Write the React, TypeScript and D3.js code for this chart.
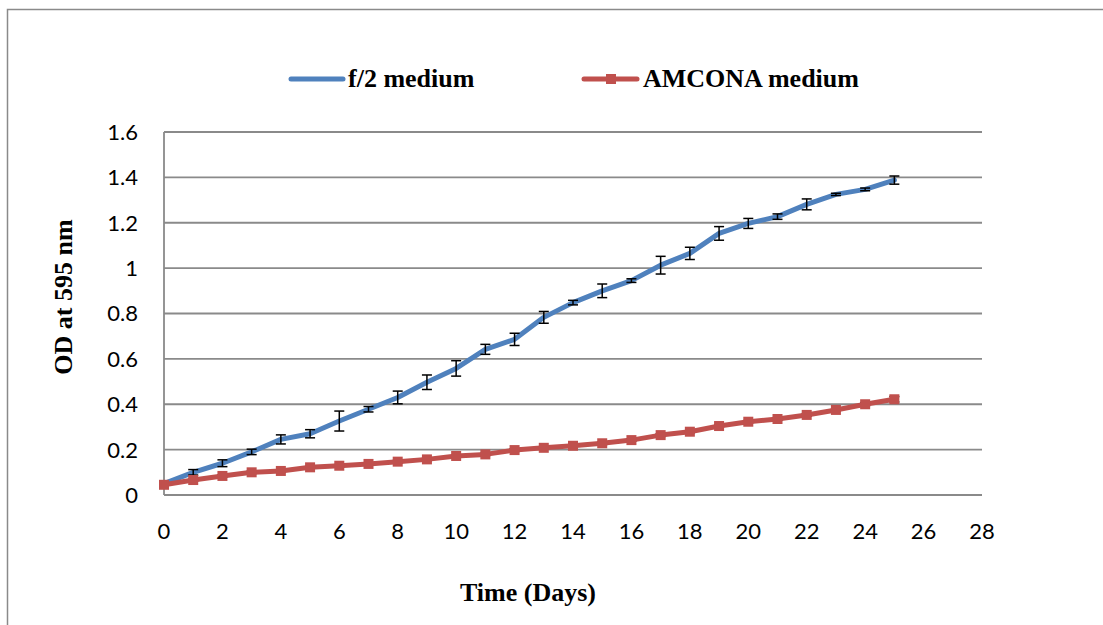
import * as d3 from 'd3';

// growth curve, OD at 595 nm per day
const days = d3.range(0, 26);
const f2Medium = [0.05, 0.10, 0.14, 0.19, 0.245, 0.27, 0.326, 0.378, 0.43, 0.497, 0.558, 0.642, 0.686, 0.783, 0.848, 0.90, 0.945, 1.013, 1.065, 1.153, 1.197, 1.227, 1.281, 1.325, 1.347, 1.388];
const f2Err = [0.004, 0.012, 0.015, 0.012, 0.02, 0.018, 0.044, 0.012, 0.028, 0.032, 0.034, 0.022, 0.027, 0.026, 0.01, 0.03, 0.008, 0.039, 0.027, 0.03, 0.022, 0.012, 0.024, 0.005, 0.006, 0.018];
const amcona = [0.045, 0.066, 0.084, 0.10, 0.106, 0.122, 0.129, 0.137, 0.147, 0.157, 0.172, 0.179, 0.198, 0.208, 0.217, 0.228, 0.242, 0.264, 0.279, 0.304, 0.323, 0.335, 0.353, 0.375, 0.40, 0.422];
const amconaErr = [0.006, 0.005, 0.005, 0.005, 0.006, 0.005, 0.005, 0.005, 0.005, 0.006, 0.005, 0.005, 0.006, 0.005, 0.005, 0.006, 0.005, 0.006, 0.005, 0.006, 0.005, 0.006, 0.006, 0.005, 0.007, 0.012];
const xTicks = d3.range(0, 29, 2);
const yTicks = [0, 0.2, 0.4, 0.6, 0.8, 1, 1.2, 1.4, 1.6];

const BLUE = '#4F81BD';
const RED = '#C0504D';
const GRID = '#8a8a8a';
const SERIF = '"Liberation Serif", "Times New Roman", serif';
const SANS = 'Lato, "Open Sans", sans-serif';

export default function App() {
  const x = d3.scaleLinear().domain([0, 28]).range([164, 982]);
  const y = d3.scaleLinear().domain([0, 1.6]).range([495, 132]);
  const line = d3.line<number>().x((_, i) => x(days[i])).y(d => y(d));

  const errorBars = (vals: number[], errs: number[], key: string) =>
    vals.map((v, i) => {
      const cx = x(days[i]);
      const y1 = y(v + errs[i]);
      const y2 = y(v - errs[i]);
      return (
        <g key={key + i} stroke="#000" strokeWidth={1.5}>
          <line x1={cx} x2={cx} y1={y1} y2={y2} />
          <line x1={cx - 5} x2={cx + 5} y1={y1} y2={y1} />
          <line x1={cx - 5} x2={cx + 5} y1={y2} y2={y2} />
        </g>
      );
    });

  return (
    <svg width={1103} height={625} style={{ position: 'absolute', left: 0, top: 0 }}>
      <rect x={0} y={0} width={1103} height={625} fill="#fff" />
      <rect x={7.5} y={9.5} width={1110} height={630} fill="none" stroke={GRID} strokeWidth={1.5} />

      {/* gridlines */}
      {yTicks.map(t => (
        <line key={'g' + t} x1={x(0)} x2={x(28)} y1={y(t)} y2={y(t)} stroke={GRID} strokeWidth={1.8} />
      ))}
      <line x1={x(0)} x2={x(0)} y1={y(0)} y2={y(1.6)} stroke={GRID} strokeWidth={1.8} />

      {/* y tick labels */}
      {yTicks.map(t => (
        <text key={'yl' + t} x={138} y={y(t)} dy="0.36em" textAnchor="end" fontFamily={SANS} fontSize={22} fill="#000">
          {d3.format('~g')(t)}
        </text>
      ))}
      {/* x tick labels */}
      {xTicks.map(t => (
        <text key={'xl' + t} x={x(t)} y={539} textAnchor="middle" fontFamily={SANS} fontSize={22} fill="#000">
          {t}
        </text>
      ))}

      {/* series */}
      <path d={line(f2Medium) ?? ''} fill="none" stroke={BLUE} strokeWidth={5} strokeLinejoin="round" strokeLinecap="round" />
      {errorBars(f2Medium, f2Err, 'b')}
      {errorBars(amcona, amconaErr, 'r')}
      <path d={line(amcona) ?? ''} fill="none" stroke={RED} strokeWidth={5} strokeLinejoin="round" />
      {amcona.map((v, i) => (
        <rect key={'m' + i} x={x(days[i]) - 5} y={y(v) - 5} width={10} height={10} fill={RED} />
      ))}

      {/* axis titles */}
      <text x={528} y={601} textAnchor="middle" fontFamily={SERIF} fontWeight="bold" fontSize={26}>Time (Days)</text>
      <text transform="translate(72,297) rotate(-90)" textAnchor="middle" fontFamily={SERIF} fontWeight="bold" fontSize={26}>OD at 595 nm</text>

      {/* legend */}
      <line x1={291} x2={343} y1={79} y2={79} stroke={BLUE} strokeWidth={5} strokeLinecap="round" />
      <text x={348} y={87} fontFamily={SERIF} fontWeight="bold" fontSize={26}>f/2 medium</text>
      <line x1={584} x2={637} y1={79} y2={79} stroke={RED} strokeWidth={5} strokeLinecap="round" />
      <rect x={606} y={74} width={10} height={10} fill={RED} />
      <text x={643} y={87} fontFamily={SERIF} fontWeight="bold" fontSize={26}>AMCONA medium</text>
    </svg>
  );
}
